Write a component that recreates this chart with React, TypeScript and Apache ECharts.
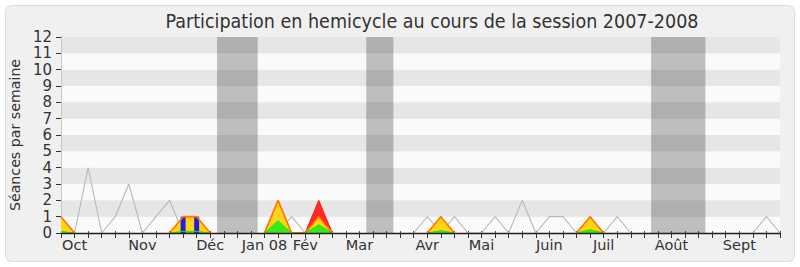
import React, { useEffect, useRef } from "react";
import * as echarts from "echarts";

// Weekly figures for the 2007-2008 session (week 0 .. week 53)
const seancesTotal = [
  0, 0, 4, 0, 1, 3, 0, 1, 2, 0, 0, 0, 0, 0, 0, 0, 0, 1, 0, 0, 0, 0, 0, 0, 0, 0, 0,
  1, 0, 1, 0, 0, 1, 0, 2, 0, 1, 1, 0, 0, 0, 1, 0, 0, 0, 0, 0, 0, 0, 0, 0, 0, 1, 0,
];
const presences = [
  1, 0, 0, 0, 0, 0, 0, 0, 0, 1, 1, 0, 0, 0, 0, 0, 2, 0, 0, 2, 0, 0, 0, 0, 0, 0, 0,
  0, 1, 0, 0, 0, 0, 0, 0, 0, 0, 0, 0, 1, 0, 0, 0, 0, 0, 0, 0, 0, 0, 0, 0, 0, 0, 0,
];
const participations = [
  1, 0, 0, 0, 0, 0, 0, 0, 0, 1, 1, 0, 0, 0, 0, 0, 2, 0, 0, 1, 0, 0, 0, 0, 0, 0, 0,
  0, 1, 0, 0, 0, 0, 0, 0, 0, 0, 0, 0, 1, 0, 0, 0, 0, 0, 0, 0, 0, 0, 0, 0, 0, 0, 0,
];
const interventions = [
  0.1, 0, 0, 0, 0, 0, 0, 0, 0, 0.1, 0.1, 0, 0, 0, 0, 0, 0.75, 0, 0, 0.5, 0, 0, 0, 0, 0, 0, 0,
  0, 0.15, 0, 0, 0, 0, 0, 0, 0, 0, 0, 0, 0.2, 0, 0, 0, 0, 0, 0, 0, 0, 0, 0, 0, 0, 0, 0,
];
const questionWeeks = [9, 10];
const questionCounts = [1, 1];

const monthWeeks = [1, 6, 11, 15, 18, 22, 27, 31, 36, 40, 45, 50];
const monthLabels = ["Oct", "Nov", "Déc", "Jan 08", "Fév", "Mar", "Avr", "Mai", "Juin", "Juil", "Août", "Sept"];

// Parliamentary recesses, in week units
const vacances: [number, number][] = [
  [11.5, 14.5],
  [22.5, 24.5],
  [43.5, 47.5],
];

const FONT = "'DejaVu Sans', Verdana, sans-serif";

const pts = (arr: number[]) => arr.map((v, i) => [i, v]);

// Outline points: runs of zeros lying on the baseline are left out so the
// outlines do not retrace the x axis.
const outlinePts = (arr: number[]) =>
  arr.map((v, i) => {
    const near = v > 0 || (arr[i - 1] ?? 0) > 0 || (arr[i + 1] ?? 0) > 0;
    return [i, near ? v : null];
  });

export default function App() {
  const ref = useRef<HTMLDivElement>(null);

  useEffect(() => {
    if (!ref.current) return;
    const chart = echarts.init(ref.current, undefined, { renderer: "svg" });

    const areaSeries = (name: string, data: number[], fill: string, z: number) => ({
      name,
      type: "line",
      data: pts(data),
      symbol: "none",
      z,
      lineStyle: { width: 0 },
      areaStyle: { color: fill, opacity: 1 },
    });
    const lineSeries = (name: string, data: number[], color: string, width: number, z: number) => ({
      name,
      type: "line",
      data: outlinePts(data),
      symbol: "none",
      connectNulls: false,
      z,
      lineStyle: { width, color },
    });

    chart.setOption({
      animation: false,
      backgroundColor: "#ffffff",
      title: {
        text: "Participation en hemicycle au cours de la session 2007-2008",
        left: 427,
        top: 6,
        textAlign: "center",
        textStyle: {
          fontFamily: "'DejaVu Sans Condensed', 'DejaVu Sans', sans-serif",
          fontSize: 19.5,
          fontWeight: "normal",
          color: "#333333",
        },
      },
      graphic: [
        {
          type: "rect",
          z: -100,
          shape: { x: 5.5, y: 5.5, width: 789, height: 256, r: 6 },
          style: { fill: "#f0f0f0", stroke: "#dcdcdc", lineWidth: 1 },
        },
      ],
      grid: { left: 61, right: 20, top: 37, bottom: 34 },
      xAxis: [
        {
          type: "value",
          min: 0,
          max: 53,
          interval: 1,
          z: 10,
          axisLine: { show: true, onZero: false, lineStyle: { color: "#2a1a14", width: 1.3 } },
          axisTick: { show: true, length: 5, lineStyle: { color: "#333333" } },
          splitLine: { show: false },
          axisLabel: {
            show: true,
            margin: 4,
            fontFamily: FONT,
            fontSize: 14.5,
            color: "#333333",
            showMinLabel: true,
            showMaxLabel: true,
            formatter: (v: number) => {
              const k = monthWeeks.indexOf(Math.round(v));
              return k >= 0 ? monthLabels[k] : "";
            },
          },
        },
        {
          type: "value",
          position: "top",
          min: 0,
          max: 53,
          interval: 1,
          axisLine: { show: false },
          axisTick: { show: true, length: 2, lineStyle: { color: "#555555" } },
          axisLabel: { show: false },
          splitLine: { show: false },
        },
      ],
      yAxis: [
        {
          type: "value",
          min: 0,
          max: 12,
          interval: 1,
          name: "Séances par semaine",
          nameLocation: "middle",
          nameRotate: 90,
          nameGap: 34,
          nameTextStyle: { fontFamily: FONT, fontSize: 14.2, color: "#333333" },
          axisLine: { show: true, lineStyle: { color: "#333333", width: 1 } },
          axisTick: { show: true, length: 5, lineStyle: { color: "#333333" } },
          axisLabel: { margin: 9, fontFamily: FONT, fontSize: 15, color: "#333333" },
          splitLine: { show: false },
          splitArea: { show: true, areaStyle: { color: ["#fafafa", "#e6e6e6"] } },
        },
        {
          type: "value",
          position: "right",
          min: 0,
          max: 12,
          interval: 1,
          axisLine: { show: true, lineStyle: { color: "#c8c8c8" } },
          axisTick: { show: false },
          axisLabel: { show: false },
          splitLine: { show: false },
        },
      ],
      series: [
        {
          name: "Séances",
          type: "line",
          data: outlinePts(seancesTotal),
          symbol: "none",
          connectNulls: false,
          z: 2,
          lineStyle: { width: 1.1, color: "#b8b8b8" },
          markArea: {
            silent: true,
            itemStyle: { color: "rgba(0,0,0,0.24)" },
            data: vacances.map(([a, b]) => [{ xAxis: a }, { xAxis: b }]),
          },
        },
        areaSeries("Présences", presences, "#ff2a2a", 3),
        areaSeries("Participations", participations, "#ffd31a", 4),
        areaSeries("Interventions", interventions, "#3ce81a", 5),
        {
          name: "Questions",
          type: "bar",
          data: questionWeeks.map((w, i) => [w, questionCounts[i]]),
          barWidth: 5,
          z: 6,
          itemStyle: { color: "#2020e0" },
        },
        lineSeries("Présences ligne", presences, "#ff1a1a", 1, 7),
        lineSeries("Participations ligne", participations, "#ff7a00", 1.6, 8),
        lineSeries("Interventions ligne", interventions, "#33dd11", 1, 9),
      ],
    });

    return () => chart.dispose();
  }, []);

  return (
    <div
      ref={ref}
      style={{ position: "fixed", left: 0, top: 0, width: 800, height: 267 }}
    />
  );
}
